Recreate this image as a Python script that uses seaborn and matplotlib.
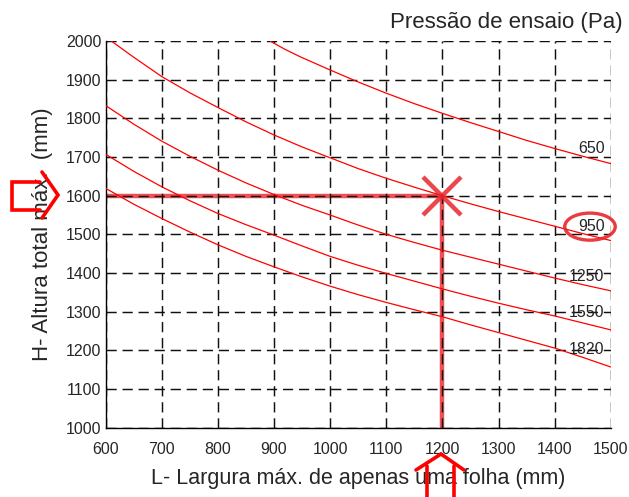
import numpy as np
import pandas as pd
import matplotlib
matplotlib.use("Agg")
import matplotlib.pyplot as plt
import seaborn as sns
from matplotlib.patches import Ellipse
from matplotlib.lines import Line2D

# curves: L (mm) -> H (mm) for each test pressure (Pa)
L_650 = [893, 920, 947, 1000, 1050, 1100, 1150, 1200, 1250, 1300, 1350, 1400, 1450, 1500]
H_650 = [2000, 1978, 1959, 1925, 1894, 1865, 1838, 1813, 1789, 1766, 1743, 1722, 1702, 1683]
L_STD = [600, 650, 700, 750, 800, 850, 900, 950, 1000, 1050, 1100, 1150, 1200, 1250,
         1300, 1350, 1400, 1450, 1500]
L_950 = [610] + L_STD[1:]
H_950 = [2000, 1958, 1908, 1866, 1828, 1791, 1757, 1726, 1698, 1670, 1645, 1622, 1600, 1579,
         1559, 1540, 1521, 1502, 1484]
H_1250 = [1833, 1785, 1741, 1702, 1666, 1633, 1603, 1575, 1550, 1524, 1500, 1479, 1459, 1441,
          1423, 1405, 1387, 1370, 1354]
H_1550 = [1707, 1663, 1623, 1587, 1554, 1525, 1498, 1470, 1443, 1420, 1399, 1379, 1359, 1340,
          1322, 1305, 1289, 1271, 1253]
H_1820 = [1619, 1578, 1541, 1506, 1473, 1443, 1416, 1390, 1366, 1344, 1324, 1305, 1287, 1266,
          1246, 1226, 1206, 1182, 1157]

pressures = ["650", "950", "1250", "1550", "1820"]
label_H = [1723, 1520, 1390, 1297, 1203]

sel_L = 1200
sel_H = 1600

frames = []
for p, L, H in [("650", L_650, H_650), ("950", L_950, H_950), ("1250", L_STD, H_1250),
                ("1550", L_STD, H_1550), ("1820", L_STD, H_1820)]:
    frames.append(pd.DataFrame({"L": L, "H": H, "p": p}))
df = pd.concat(frames, ignore_index=True)

sns.set_style("white")
plt.rcParams['font.family'] = ['Liberation Sans', 'DejaVu Sans']

fig = plt.figure(figsize=(6.29, 4.97), dpi=100)
ax = fig.add_axes([0.168, 0.1394, 0.803, 0.7781])

# highlight of the selected point
ax.plot([600, sel_L], [sel_H, sel_H], color="#e8262b", lw=3.2, alpha=0.8, zorder=1, solid_capstyle="butt")
ax.plot([sel_L, sel_L], [1000, sel_H], color="#e8262b", lw=3.2, alpha=0.8, zorder=1, solid_capstyle="butt")

sns.lineplot(data=df, x="L", y="H", units="p", estimator=None, color="red", lw=0.9,
             sort=False, ax=ax, zorder=3)

ax.plot(sel_L, sel_H, marker="x", ms=27, mew=3.2, color="#e8262b", alpha=0.85, zorder=4)

for p, h in zip(pressures, label_H):
    ax.text(1489, h, p, ha="right", va="center", fontsize=11.5, zorder=5)

ax.add_patch(Ellipse((1463, 1520), 90, 70, fill=False, ec="#e8262b", lw=2.4, alpha=0.9,
                     clip_on=False, zorder=6))

ax.set_xlim(600, 1500)
ax.set_ylim(1000, 2000)
ax.set_xticks(np.arange(600, 1501, 100))
ax.set_yticks(np.arange(1000, 2001, 100))
ax.tick_params(length=0, labelsize=11.5)
ax.tick_params(axis="x", pad=10)
ax.tick_params(axis="y", pad=3)
ax.grid(True, color="#111111", lw=1.05, linestyle=(0, (7, 4)))
ax.set_axisbelow(False)
for s in ["top", "right"]:
    ax.spines[s].set_visible(False)
for s in ["left", "bottom"]:
    ax.spines[s].set_color("black")
    ax.spines[s].set_linewidth(1.0)
    ax.spines[s].set_zorder(2.6)

ax.set_xlabel("L- Largura máx. de apenas uma folha (mm)", fontsize=15.5, labelpad=8)
ax.set_ylabel("H- Altura total máx.  (mm)", fontsize=16, labelpad=9)
fig.text(0.99, 0.954, "Pressão de ensaio (Pa)", ha="right", va="center", fontsize=16)

# hand-drawn red arrows around the chart
W, Hh = 629, 497
def fig_line(xs, ys):
    fig.add_artist(Line2D([x / W for x in xs], [1 - y / Hh for y in ys],
                          color="red", lw=2.6, solid_joinstyle="miter"))

fig_line([40, 12, 12, 40], [182, 182, 210, 210])
fig_line([42, 58, 42], [172, 195, 218])
fig_line([416, 441, 464], [470, 454, 470])
fig_line([427, 427], [466, 497])
fig_line([454, 454], [466, 497])

fig.savefig("out.png", dpi=100)
